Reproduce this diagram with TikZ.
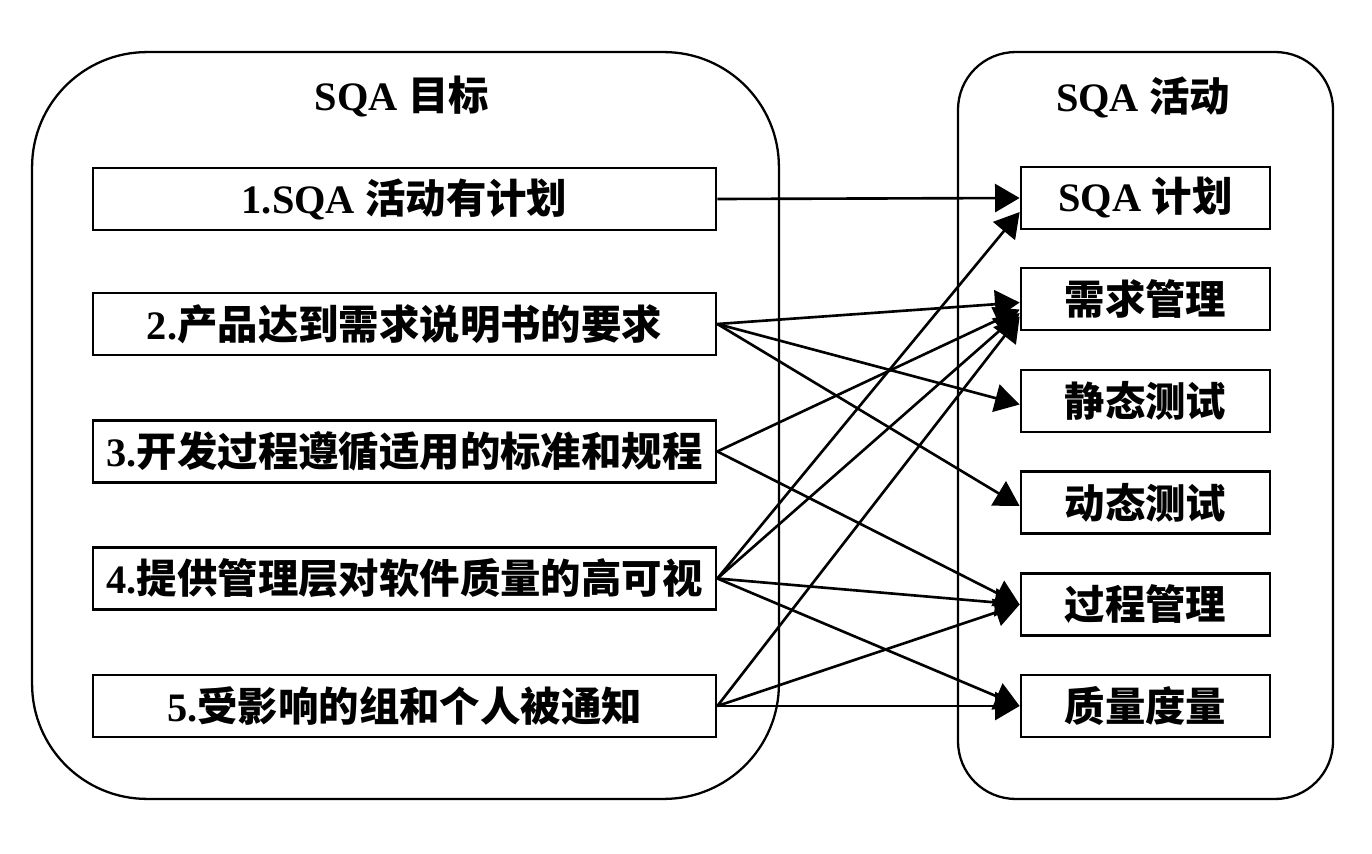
\documentclass[tikz,border=0pt]{standalone}
\usepackage{fontspec}
\setmainfont{Liberation Serif}
\newfontfamily\cjk{Noto Sans CJK SC}
\usetikzlibrary{arrows.meta}
\newcommand\zh[1]{{\cjk\bfseries #1}}
\begin{document}
\begin{tikzpicture}[x=0.02cm,y=-0.02cm,
  container/.style={draw, line width=1.3pt, rounded corners=#1, minimum height=14.94cm, inner sep=0pt},
  goalbox/.style={draw, line width=1.6pt, minimum width=12.46cm, minimum height=1.24cm, inner sep=0pt,
    font=\fontsize{23}{23}\selectfont\bfseries},
  actbox/.style={draw, line width=1.6pt, minimum width=4.98cm, minimum height=1.24cm, inner sep=0pt,
    font=\fontsize{23}{23}\selectfont\bfseries},
  boxtitle/.style={font=\fontsize{23}{23}\selectfont\bfseries, inner sep=0pt},
  link/.style={line width=1.5pt, -{Triangle[length=14pt,width=16pt]}}
]
\useasboundingbox (0,0) rectangle (1372,854);
\fill[white] (0,0) rectangle (1372,854);

\node[container=2.3cm, minimum width=14.94cm] (goals) at (405.5,425.5) {};
\node[container=1.15cm, minimum width=7.5cm] (acts) at (1145.5,425.5) {};

\node[boxtitle] (tg) at (402,97) {SQA \zh{目标}};
\node[boxtitle] (ta) at (1143,97) {SQA \zh{活动}};

\node[goalbox] (g1) at (404.5,199) {1.SQA \zh{活动有计划}};
\node[goalbox] (g2) at (404.5,324) {2.\zh{产品达到需求说明书的要求}};
\node[goalbox] (g3) at (404.5,451.5) {3.\zh{开发过程遵循适用的标准和规程}};
\node[goalbox] (g4) at (404.5,578.5) {4.\zh{提供管理层对软件质量的高可视}};
\node[goalbox] (g5) at (404.5,706) {5.\zh{受影响的组和个人被通知}};

\node[actbox] (a1) at (1145.5,198) {SQA \zh{计划}};
\node[actbox] (a2) at (1145.5,299) {\zh{需求管理}};
\node[actbox] (a3) at (1145.5,401) {\zh{静态测试}};
\node[actbox] (a4) at (1145.5,502.5) {\zh{动态测试}};
\node[actbox] (a5) at (1145.5,604.5) {\zh{过程管理}};
\node[actbox] (a6) at (1145.5,706) {\zh{质量度量}};

\draw[link] (g1.east) -- (a1.west);
\draw[link] (g2.east) -- ([yshift=-2pt]a2.west);
\draw[link] (g2.east) -- ([yshift=-2pt]a3.west);
\draw[link] (g2.east) -- ([yshift=-2pt]a4.west);
\draw[link] (g3.east) -- ([yshift=-6pt]a2.west);
\draw[link] (g3.east) -- (a5.west);
\draw[link] (g4.east) -- ([yshift=-8pt]a1.west);
\draw[link] (g4.east) -- ([yshift=-8pt]a2.west);
\draw[link] (g4.east) -- (a5.west);
\draw[link] (g4.east) -- (a6.west);
\draw[link] (g5.east) -- ([yshift=-10pt]a2.west);
\draw[link] (g5.east) -- (a5.west);
\draw[link] (g5.east) -- (a6.west);
\end{tikzpicture}
\end{document}
